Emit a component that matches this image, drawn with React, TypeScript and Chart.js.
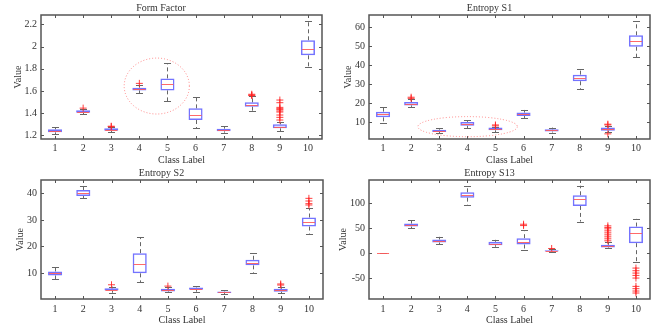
import React, { useEffect, useRef } from 'react';
import { Chart, registerables } from 'chart.js';
Chart.register(...registerables);

const FONT = '"Liberation Serif", "Times New Roman", serif';
const TEXT = '#333';

const classLabels = ['1', '2', '3', '4', '5', '6', '7', '8', '9', '10'];

// Form Factor
const ffLow = [1.212, 1.389, 1.227, 1.578, 1.509, 1.263, 1.224, 1.419, 1.239, 1.813];
const ffQ1 = [1.227, 1.404, 1.242, 1.605, 1.605, 1.338, 1.236, 1.458, 1.263, 1.921];
const ffMedian = [1.239, 1.413, 1.251, 1.614, 1.659, 1.38, 1.248, 1.476, 1.275, 1.975];
const ffQ3 = [1.254, 1.425, 1.263, 1.629, 1.713, 1.443, 1.26, 1.497, 1.299, 2.056];
const ffHigh = [1.272, 1.437, 1.272, 1.655, 1.849, 1.548, 1.284, 1.554, 1.32, 2.23];
const ffOutClass = ['2', '3', '3', '4', '8', '8', '8', '9', '9', '9', '9', '9', '9', '9', '9', '9', '9'];
const ffOutValue = [1.445, 1.282, 1.278, 1.668, 1.57, 1.563, 1.558, 1.518, 1.494, 1.452, 1.44, 1.434, 1.42, 1.41, 1.383, 1.362, 1.338];
const ffTicks = [1.2, 1.4, 1.6, 1.8, 2, 2.2];

// Entropy S1
const s1Low = [9.5, 18.1, 4.2, 6.8, 4.7, 12.1, 4.6, 27.4, 4.7, 44.2];
const s1Q1 = [12.6, 18.9, 4.9, 8.2, 5.8, 13.3, 5.1, 31.6, 5.6, 49.8];
const s1Median = [14.2, 19.6, 5.4, 9.3, 6.5, 14.2, 5.8, 33.3, 6.5, 52.6];
const s1Q3 = [15.6, 20.7, 6.1, 10.2, 7.2, 15.1, 6.3, 35.1, 7.2, 55.8];
const s1High = [17.9, 22.1, 7.0, 11.1, 7.7, 16.5, 7.2, 38.1, 8.1, 63.2];
const s1OutClass = ['2', '2', '5', '5', '9', '9', '9'];
const s1OutValue = [23.2, 22.6, 8.6, 8.1, 9.0, 8.6, 3.9];
const s1Ticks = [10, 20, 30, 40, 50, 60];

// Entropy S2
const s2Low = [7.75, 38.1, 2.6, 6.6, 2.75, 3.0, 2.1, 10.0, 2.4, 24.6];
const s2Q1 = [9.1, 39.0, 3.4, 9.9, 3.1, 3.75, 2.5, 12.9, 3.0, 27.5];
const s2Median = [9.9, 40.1, 3.75, 13.5, 3.6, 4.1, 2.9, 13.9, 3.6, 29.1];
const s2Q3 = [10.6, 41.25, 4.25, 17.5, 4.1, 4.6, 3.1, 15.0, 4.1, 30.9];
const s2High = [12.1, 42.9, 4.9, 23.5, 4.6, 5.1, 3.5, 17.4, 4.9, 34.4];
const s2OutClass = ['3', '5', '9', '9', '10', '10', '10', '10'];
const s2OutValue = [5.6, 5.1, 5.9, 5.5, 38.1, 37.1, 36.1, 35.6];
const s2Ticks = [10, 20, 30, 40];

// Entropy S13
const s13Low = [0, 50, 18, 96.7, 12.7, 6.7, 2, 63.3, 10, -18];
const s13Q1 = [0, 53.3, 21.3, 111.3, 16, 17.3, 3.3, 94.7, 11.3, 20];
const s13Median = [0, 56.7, 24, 117.3, 19.3, 22, 4.7, 108, 14.7, 40];
const s13Q3 = [0, 59.3, 27.3, 122, 22.7, 30, 6, 116, 16.7, 53.3];
const s13High = [0, 66, 32.7, 135.3, 26.7, 46, 8, 135.3, 22, 68.7];
const s13OutClass = ['6', '6', '7', '9', '9', '9', '9', '9', '9', '9', '9', '9', '10', '10', '10', '10', '10', '10', '10', '10', '10'];
const s13OutValue = [58, 55.3, 9.3, 54.7, 51.5, 48.7, 44.7, 40.7, 36.7, 32.7, 28.7, 24.7, -30, -35.3, -40, -44.7, -50, -66.7, -71.3, -76, -80];
const s13Ticks = [-50, 0, 50, 100];

type Ellipse = { cx: number; cy: number; rx: number; ry: number };

type PanelProps = {
  title: string;
  low: number[]; q1: number[]; median: number[]; q3: number[]; high: number[];
  outClass: string[]; outValue: number[];
  ticks: number[]; yMin: number; yMax: number;
  left: number; top: number; width: number; height: number;
  plotLeft: number; plotRight: number; plotBottom: number;
  yTitlePad: number; xTickPad: number; xTitlePad: number;
  ellipse?: Ellipse;
};

function BoxPanel(p: PanelProps) {
  const ref = useRef<HTMLCanvasElement>(null);
  useEffect(() => {
    if (!ref.current) return;
    const extras = {
      id: 'boxExtras',
      beforeDatasetsDraw(chart: any) {
        const ctx = chart.ctx;
        const ys = chart.scales.y;
        const meta = chart.getDatasetMeta(0);
        ctx.save();
        ctx.lineWidth = 1;
        ctx.strokeStyle = '#666';
        for (let i = 0; i < p.q1.length; i++) {
          const bar = meta.data[i];
          const cx = Math.round(bar.x) + 0.5;
          const w = bar.width;
          const yH = ys.getPixelForValue(p.high[i]);
          const yL = ys.getPixelForValue(p.low[i]);
          const y3 = ys.getPixelForValue(p.q3[i]);
          const y1 = ys.getPixelForValue(p.q1[i]);
          ctx.setLineDash([4, 3]);
          ctx.beginPath();
          ctx.moveTo(cx, y3); ctx.lineTo(cx, yH);
          ctx.moveTo(cx, y1); ctx.lineTo(cx, yL);
          ctx.stroke();
          ctx.setLineDash([]);
          ctx.beginPath();
          ctx.moveTo(cx - w / 4, Math.round(yH) + 0.5); ctx.lineTo(cx + w / 4, Math.round(yH) + 0.5);
          ctx.moveTo(cx - w / 4, Math.round(yL) + 0.5); ctx.lineTo(cx + w / 4, Math.round(yL) + 0.5);
          ctx.stroke();
        }
        ctx.restore();
      },
      afterDatasetsDraw(chart: any) {
        const ctx = chart.ctx;
        const ys = chart.scales.y;
        const meta = chart.getDatasetMeta(0);
        ctx.save();
        ctx.lineWidth = 1;
        ctx.strokeStyle = 'rgba(255,90,90,0.9)';
        for (let i = 0; i < p.median.length; i++) {
          const bar = meta.data[i];
          const w = bar.width;
          const ym = Math.round(ys.getPixelForValue(p.median[i])) + 0.5;
          ctx.beginPath();
          ctx.moveTo(bar.x - w / 2 + 1, ym); ctx.lineTo(bar.x + w / 2 - 1, ym);
          ctx.stroke();
        }
        ctx.restore();
      },
      afterDraw(chart: any) {
        const ctx = chart.ctx;
        const a = chart.chartArea;
        const xs = chart.scales.x;
        const ys = chart.scales.y;
        ctx.save();
        ctx.strokeStyle = '#555';
        ctx.lineWidth = 1;
        ctx.beginPath();
        for (const v of p.ticks) {
          const yy = Math.round(ys.getPixelForValue(v)) + 0.5;
          ctx.moveTo(a.left, yy); ctx.lineTo(a.left + 3, yy);
          ctx.moveTo(a.right, yy); ctx.lineTo(a.right - 3, yy);
        }
        for (let i = 0; i < classLabels.length; i++) {
          const xx = Math.round(xs.getPixelForValue(i)) + 0.5;
          ctx.moveTo(xx, a.bottom); ctx.lineTo(xx, a.bottom - 3);
          ctx.moveTo(xx, a.top); ctx.lineTo(xx, a.top + 3);
        }
        ctx.stroke();
        ctx.lineWidth = 1.5;
        ctx.strokeStyle = '#555';
        ctx.strokeRect(a.left, a.top, a.right - a.left, a.bottom - a.top);
        if (p.ellipse) {
          const e = p.ellipse;
          const cx = xs.getPixelForValue(e.cx);
          const cy = ys.getPixelForValue(e.cy);
          const rx = Math.abs(xs.getPixelForValue(e.cx + e.rx) - cx);
          const ry = Math.abs(ys.getPixelForValue(e.cy + e.ry) - cy);
          ctx.lineWidth = 1;
          ctx.strokeStyle = 'rgba(255,100,100,0.75)';
          ctx.setLineDash([1, 2]);
          ctx.beginPath();
          ctx.ellipse(cx, cy, rx, ry, 0, 0, Math.PI * 2);
          ctx.stroke();
        }
        ctx.restore();
      },
    };

    const chart = new Chart(ref.current, {
      type: 'bar',
      data: {
        labels: classLabels,
        datasets: [
          {
            type: 'bar',
            data: p.q1.map((v, i) => [v, p.q3[i]]) as any,
            backgroundColor: 'rgba(0,0,0,0)',
            borderColor: 'rgba(100,100,255,0.9)',
            borderWidth: 1.5,
            borderSkipped: false,
            barPercentage: 0.5,
            categoryPercentage: 1,
            order: 2,
          } as any,
          {
            type: 'line',
            data: p.outClass.map((c, i) => ({ x: c, y: p.outValue[i] })) as any,
            showLine: false,
            pointStyle: 'cross',
            pointRadius: 3.5,
            pointBorderWidth: 1,
            pointBorderColor: 'rgba(255,30,30,0.85)',
            pointBackgroundColor: 'rgba(255,30,30,0.85)',
            order: 1,
          } as any,
        ],
      },
      options: {
        animation: false,
        responsive: false,
        events: [],
        layout: { padding: { left: 0, right: p.width - p.plotRight, top: 0, bottom: 0 } },
        plugins: {
          legend: { display: false },
          tooltip: { enabled: false },
          title: {
            display: true,
            text: p.title,
            color: TEXT,
            font: { family: FONT, size: 10, weight: 'normal', lineHeight: 1.2 },
            padding: { top: 2, bottom: 1 },
          },
        },
        scales: {
          x: {
            type: 'category',
            offset: true,
            grid: { display: false, drawTicks: false, tickLength: 0 },
            border: { display: false },
            ticks: { color: TEXT, font: { family: FONT, size: 10 }, padding: p.xTickPad, maxRotation: 0, autoSkip: false },
            title: {
              display: true,
              text: 'Class Label',
              color: TEXT,
              font: { family: FONT, size: 10, lineHeight: 1 },
              padding: { top: 0, bottom: p.xTitlePad },
            },
            afterFit(s: any) { s.height = p.height - p.plotBottom; },
          },
          y: {
            type: 'linear',
            min: p.yMin,
            max: p.yMax,
            grid: { display: false, drawTicks: false, tickLength: 0 },
            border: { display: false },
            afterBuildTicks(s: any) { s.ticks = p.ticks.map((v) => ({ value: v })); },
            ticks: { color: TEXT, font: { family: FONT, size: 10 }, padding: 4, callback: (v: any) => String(v) },
            title: {
              display: true,
              text: 'Value',
              color: TEXT,
              font: { family: FONT, size: 10, lineHeight: 1.2 },
              padding: { top: p.yTitlePad, bottom: 0 },
            },
            afterFit(s: any) { s.width = p.plotLeft; },
          },
        },
      } as any,
      plugins: [extras as any],
    });
    return () => chart.destroy();
  }, []);
  return (
    <div style={{ position: 'absolute', left: p.left, top: p.top, width: p.width, height: p.height }}>
      <canvas ref={ref} width={p.width} height={p.height} style={{ display: 'block' }} />
    </div>
  );
}

export default function App() {
  Chart.defaults.font.family = FONT;
  return (
    <div style={{ position: 'absolute', left: 0, top: 0, width: 658, height: 331, background: '#fff', overflow: 'hidden' }}>
      <BoxPanel
        title="Form Factor"
        low={ffLow} q1={ffQ1} median={ffMedian} q3={ffQ3} high={ffHigh}
        outClass={ffOutClass} outValue={ffOutValue}
        ticks={ffTicks} yMin={1.167} yMax={2.284}
        left={0} top={0} width={329} height={165}
        plotLeft={41} plotRight={322} plotBottom={139}
        yTitlePad={12} xTickPad={3} xTitlePad={0}
        ellipse={{ cx: 3.62, cy: 1.644, rx: 1.16, ry: 0.252 }}
      />
      <BoxPanel
        title="Entropy S1"
        low={s1Low} q1={s1Q1} median={s1Median} q3={s1Q3} high={s1High}
        outClass={s1OutClass} outValue={s1OutValue}
        ticks={s1Ticks} yMin={1.2} yMax={66.5}
        left={329} top={0} width={329} height={165}
        plotLeft={40} plotRight={321} plotBottom={139}
        yTitlePad={13} xTickPad={3} xTitlePad={0}
        ellipse={{ cx: 3.01, cy: 7.7, rx: 1.77, ry: 5.3 }}
      />
      <BoxPanel
        title="Entropy S2"
        low={s2Low} q1={s2Q1} median={s2Median} q3={s2Q3} high={s2High}
        outClass={s2OutClass} outValue={s2OutValue}
        ticks={s2Ticks} yMin={0.25} yMax={45}
        left={0} top={165} width={329} height={166}
        plotLeft={41} plotRight={323} plotBottom={134}
        yTitlePad={14} xTickPad={4} xTitlePad={6}
      />
      <BoxPanel
        title="Entropy S13"
        low={s13Low} q1={s13Q1} median={s13Median} q3={s13Q3} high={s13High}
        outClass={s13OutClass} outValue={s13OutValue}
        ticks={s13Ticks} yMin={-92} yMax={146.7}
        left={329} top={165} width={329} height={166}
        plotLeft={40} plotRight={321} plotBottom={134}
        yTitlePad={8} xTickPad={4} xTitlePad={6}
      />
    </div>
  );
}
